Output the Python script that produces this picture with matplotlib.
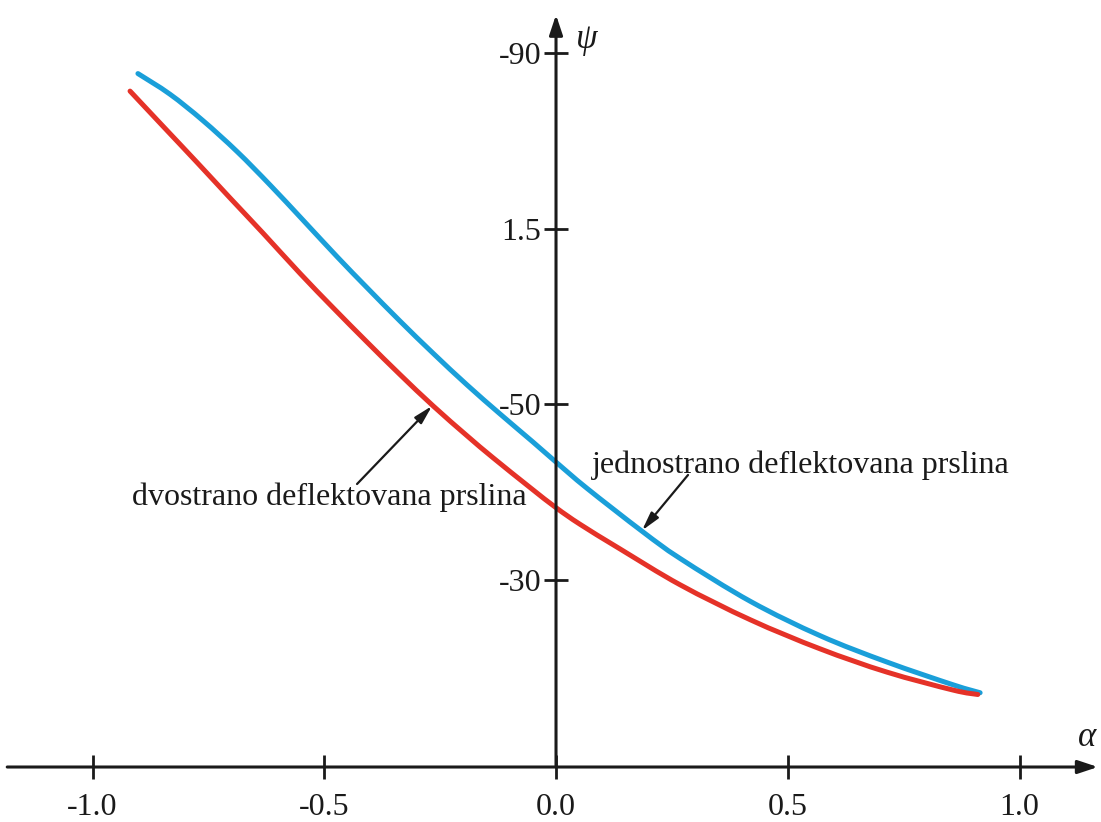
import matplotlib
matplotlib.use("Agg")
import matplotlib.pyplot as plt
import numpy as np
from matplotlib.path import Path
from matplotlib.patches import PathPatch

# alpha values and psi angles read for the two crack types
alpha_one_sided = [-0.902, -0.833, -0.762, -0.688, -0.617, -0.546, -0.472, -0.408,
                   -0.337, -0.265, -0.192, -0.121, -0.050, 0.0, 0.067, 0.186,
                   0.268, 0.42, 0.570, 0.714, 0.857, 0.915]
psi_one_sided = [87.7, 85.35, 82.35, 78.8, 75.0, 71.0, 66.8, 63.3,
                 59.5, 55.8, 52.2, 48.9, 45.7, 43.4, 40.4, 35.5,
                 32.4, 27.5, 23.6, 20.6, 18.0, 17.1]

alpha_two_sided = [-0.919, -0.848, -0.775, -0.703, -0.632, -0.552, -0.481, -0.408,
                   -0.337, -0.265, -0.192, -0.136, -0.056, 0.0, 0.052, 0.138,
                   0.268, 0.42, 0.570, 0.714, 0.857, 0.910]
psi_two_sided = [85.7, 81.7, 77.6, 73.5, 69.5, 64.9, 61.0, 57.1,
                 53.4, 49.8, 46.4, 43.9, 40.5, 38.2, 36.3, 33.5,
                 29.4, 25.4, 22.1, 19.45, 17.4, 16.9]

x_ticks = [-1.0, -0.5, 0.0, 0.5, 1.0]
x_tick_labels = ["-1.0", "-0.5", "0.0", "0.5", "1.0"]
y_ticks = [30, 50, 70, 90]
y_tick_labels = ["-30", "-50", "1.5", "-90"]

label_one_sided = "jednostrano deflektovana prslina"
label_two_sided = "dvostrano deflektovana prslina"

BLUE = "#1a9fd9"
RED = "#e53228"
INK = "#1a1a1a"
SERIF = ["Liberation Serif", "DejaVu Serif"]

plt.rcParams["font.family"] = SERIF


def smooth_path(xs, ys):
    """Catmull-Rom curve through the points, as cubic Bezier segments."""
    pts = np.column_stack([xs, ys])
    padded = np.vstack([pts[0], pts, pts[-1]])
    verts = [pts[0]]
    codes = [Path.MOVETO]
    for i in range(1, len(padded) - 2):
        p0, p1, p2, p3 = padded[i - 1], padded[i], padded[i + 1], padded[i + 2]
        verts += [p1 + (p2 - p0) / 6.0, p2 - (p3 - p1) / 6.0, p2]
        codes += [Path.CURVE4] * 3
    return Path(verts, codes)


fig = plt.figure(figsize=(11.01, 8.22), dpi=100)
ax = fig.add_axes([0, 0, 1, 1])
ax.set_xlim(-1.1996, 1.1758)
ax.set_ylim(2.36, 96.09)

y_origin = 8.63  # where the alpha axis crosses psi

# invisible spines only carry the ticks through the origin
for side in ("top", "right"):
    ax.spines[side].set_visible(False)
ax.spines["left"].set_position(("data", 0.0))
ax.spines["bottom"].set_position(("data", y_origin))
ax.spines["left"].set_visible(False)
ax.spines["bottom"].set_visible(False)

ax.set_xticks(x_ticks)
ax.set_xticklabels(x_tick_labels)
ax.set_yticks(y_ticks)
ax.set_yticklabels(y_tick_labels)
ax.tick_params(direction="inout", length=17, width=2.0, color=INK,
               labelsize=23, labelcolor=INK)
ax.tick_params(axis="x", pad=10)
ax.tick_params(axis="y", pad=2)

# axes with arrow heads
axis_arrow = dict(arrowstyle="-|>,head_length=0.6,head_width=0.2",
                  mutation_scale=20, lw=2.2, color=INK, shrinkA=0, shrinkB=0)
ax.annotate("", xy=(1.169, y_origin), xytext=(-1.184, y_origin),
            arrowprops=axis_arrow)
ax.annotate("", xy=(0.0, 94.4), xytext=(0.0, y_origin),
            arrowprops=axis_arrow)

ax.text(1.1456, 12.05, "α", fontsize=25, style="italic", ha="center",
        va="center", color=INK)
ax.text(0.0669, 91.6, "ψ", fontsize=25, style="italic", ha="center",
        va="center", color=INK)

for xs, ys, colour in ((alpha_one_sided, psi_one_sided, BLUE),
                       (alpha_two_sided, psi_two_sided, RED)):
    ax.add_patch(PathPatch(smooth_path(xs, ys), facecolor="none",
                           edgecolor=colour, lw=3.6, capstyle="round",
                           joinstyle="round"))

# labels pointing at the curves
pointer = dict(arrowstyle="-|>,head_length=0.7,head_width=0.18",
               mutation_scale=16, lw=1.6, color=INK, shrinkA=0, shrinkB=0)
ax.text(0.0777, 42.16, label_one_sided, fontsize=23, ha="left",
        va="baseline", color=INK)
ax.annotate("", xy=(0.1855, 35.6), xytext=(0.2848, 41.93), arrowprops=pointer)

ax.text(-0.9148, 38.5, label_two_sided, fontsize=23, ha="left",
        va="baseline", color=INK)
ax.annotate("", xy=(-0.2675, 49.8), xytext=(-0.4293, 40.9), arrowprops=pointer)

fig.savefig("out.png", dpi=100, facecolor="white")
